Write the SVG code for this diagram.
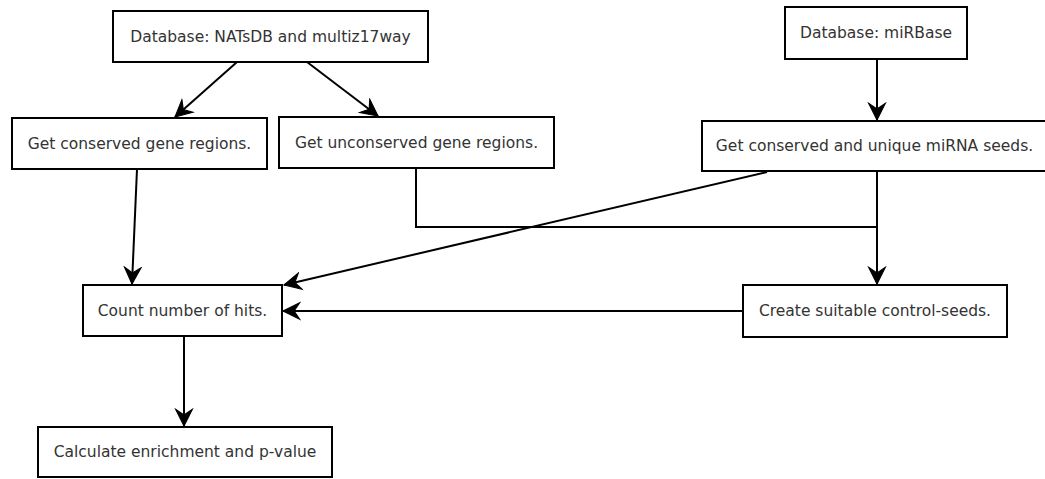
<svg xmlns="http://www.w3.org/2000/svg" width="1045" height="479" viewBox="0 0 1045 479">
<style>
.box{fill:#fff;stroke:#000;stroke-width:2}
.lbl{font-family:"DejaVu Sans",sans-serif;font-size:15.5px;fill:#333;text-anchor:middle}
.c{fill:none;stroke:#000;stroke-width:2}
</style>
<defs>
<marker id="ah" markerUnits="userSpaceOnUse" markerWidth="20" markerHeight="20" viewBox="-16 -8 18 16" refX="0" refY="0" orient="auto">
<path d="M0,0 L-15,-7.5 L-10,0 L-15,7.5 Z" fill="#000" stroke="#000" stroke-width="1"/>
</marker>
</defs>
<rect width="1045" height="479" fill="#fff"/>
<g id="connectors">
<path class="c" d="M237,62 L175,117" marker-end="url(#ah)"/>
<path class="c" d="M307,62 L378,116" marker-end="url(#ah)"/>
<path class="c" d="M877,59 L877,120" marker-end="url(#ah)"/>
<path class="c" d="M137,169 L132,284" marker-end="url(#ah)"/>
<path class="c" d="M416,168 L416,227 L877,227 L877,284" marker-end="url(#ah)"/>
<path class="c" d="M877,171 L877,227"/>
<path class="c" d="M767,172 L284,285" marker-end="url(#ah)"/>
<path class="c" d="M743,311 L283,311" marker-end="url(#ah)"/>
<path class="c" d="M184,336 L184,426" marker-end="url(#ah)"/>
</g>
<g id="n1"><rect class="box" x="113" y="11" width="315" height="51"/><text class="lbl" x="270.5" y="42">Database: NATsDB and multiz17way</text></g>
<g id="n2"><rect class="box" x="785" y="7" width="182" height="52"/><text class="lbl" x="876" y="38">Database: miRBase</text></g>
<g id="n3"><rect class="box" x="12" y="118" width="255" height="51"/><text class="lbl" x="139.5" y="149">Get conserved gene regions.</text></g>
<g id="n4"><rect class="box" x="279" y="117" width="275" height="51"/><text class="lbl" x="416.5" y="148">Get unconserved gene regions.</text></g>
<g id="n5"><rect class="box" x="702" y="121" width="345" height="50"/><text class="lbl" x="874.5" y="151">Get conserved and unique miRNA seeds.</text></g>
<g id="n6"><rect class="box" x="83" y="285" width="199" height="51"/><text class="lbl" x="182.5" y="316">Count number of hits.</text></g>
<g id="n7"><rect class="box" x="743" y="285" width="264" height="52"/><text class="lbl" x="875" y="316">Create suitable control-seeds.</text></g>
<g id="n8"><rect class="box" x="38" y="427" width="294" height="50"/><text class="lbl" x="185" y="457">Calculate enrichment and p-value</text></g>
</svg>
